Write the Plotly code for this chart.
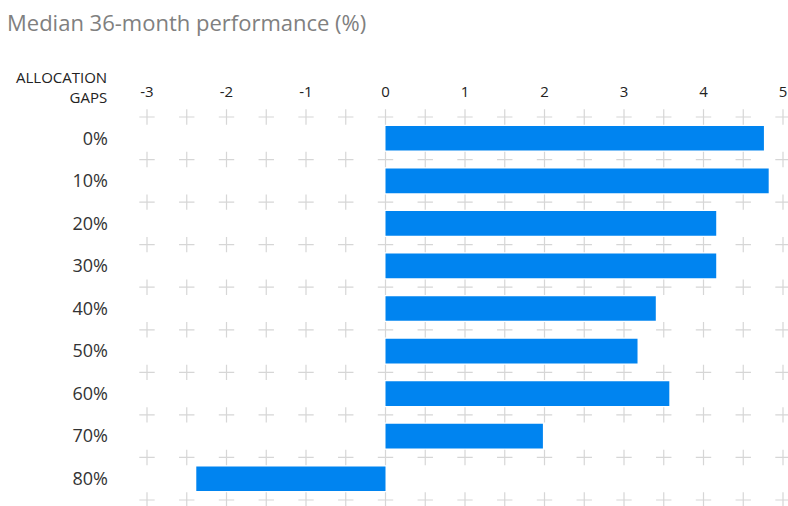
import numpy as np
import plotly.graph_objects as go

categories = ["0%", "10%", "20%", "30%", "40%", "50%", "60%", "70%", "80%"]
values = [4.76, 4.82, 4.16, 4.16, 3.40, 3.17, 3.57, 1.98, -2.38]
x_ticks = [-3, -2, -1, 0, 1, 2, 3, 4, 5]
title_text = "Median 36-month performance (%)"
y_label = "ALLOCATION<br>GAPS"

font_family = "'Open Sans', Roboto, sans-serif"
bar_color = "#0084f0"
grid_color = "#d6d6d6"

ypos = list(range(len(categories)))

# grid "+" marks at half-unit x positions and category boundaries
gx = np.arange(x_ticks[0], x_ticks[-1] + 0.25, 0.5)
gy = np.arange(-0.5, len(categories), 1.0)
GX, GY = np.meshgrid(gx, gy)

fig = go.Figure()
fig.add_trace(go.Scatter(
    x=GX.ravel(), y=GY.ravel(), mode="markers",
    marker=dict(symbol="cross-thin", size=11, line=dict(color=grid_color, width=1.2)),
    hoverinfo="skip", cliponaxis=False, showlegend=False,
))
fig.add_trace(go.Bar(
    x=values, y=ypos, orientation="h", width=0.58,
    marker=dict(color=bar_color, line=dict(width=0)), showlegend=False,
))

fig.update_layout(
    width=788, height=506,
    margin=dict(l=147, r=5, t=117, b=6),
    paper_bgcolor="white", plot_bgcolor="white",
    font=dict(family=font_family, color="#222222"),
    title=dict(text=title_text, xref="container", yref="container",
               x=7 / 788, y=1 - 23 / 506, xanchor="left", yanchor="middle",
               font=dict(size=22, color="#808080", family=font_family)),
    xaxis=dict(side="top", range=[x_ticks[0], x_ticks[-1]], tickvals=x_ticks,
               ticktext=[str(v) for v in x_ticks], automargin=False,
               ticklabeloverflow="allow",
               showgrid=False, zeroline=False, showline=False,
               ticks="outside", ticklen=13, tickcolor="rgba(0,0,0,0)",
               tickfont=dict(size=15, color="#222222")),
    yaxis=dict(range=[len(categories) - 0.5, -0.5], tickvals=ypos, ticktext=categories,
               automargin=False,
               showgrid=False, zeroline=False, showline=False,
               ticks="", ticklabelstandoff=38,
               tickfont=dict(size=18, color="#333333")),
    annotations=[dict(text=y_label, xref="paper", yref="paper",
                      x=(109 - 147) / 636, y=1 + (117 - 87) / 383,
                      xanchor="right", yanchor="middle", align="right",
                      showarrow=False, font=dict(size=15, color="#222222"))],
)

fig.write_html("out.html", config={"displayModeBar": False},
               post_script="document.body.style.margin='0';")
